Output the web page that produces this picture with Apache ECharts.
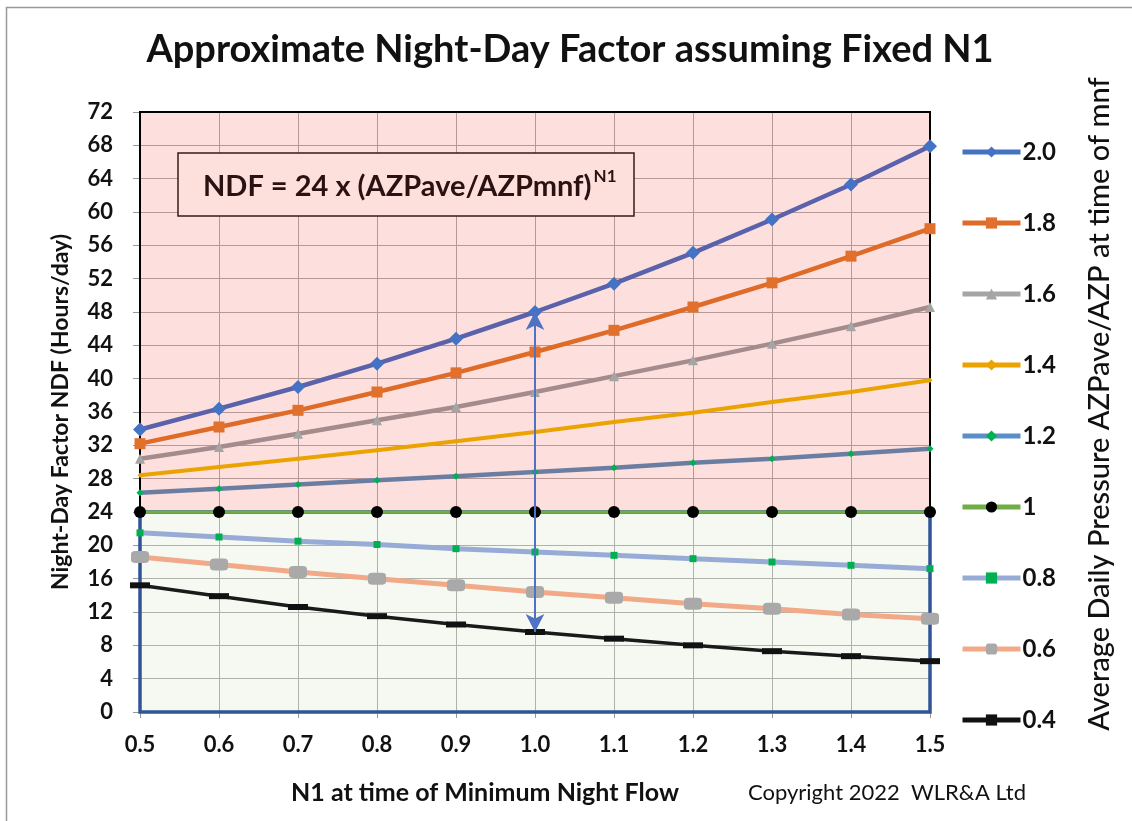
<!DOCTYPE html>
<html>
<head>
<meta charset="utf-8">
<script src="https://cdn.jsdelivr.net/npm/echarts@6/dist/echarts.min.js"></script>
<style>html,body{margin:0;padding:0;background:#fff;}#c{width:1132px;height:821px;}</style>
</head>
<body>
<div id="c"></div>
<script>
// N1 values (x axis categories)
const n1Labels = ['0.5','0.6','0.7','0.8','0.9','1.0','1.1','1.2','1.3','1.4','1.5'];
// Ratio AZPave/AZPmnf (legend names)
const ratioNames = ['2.0','1.8','1.6','1.4','1.2','1','0.8','0.6','0.4'];
// NDF values (hours/day)
const ndf20 = [33.9, 36.4, 39.0, 41.8, 44.8, 48.0, 51.4, 55.1, 59.1, 63.3, 67.9];
const ndf18 = [32.2, 34.2, 36.2, 38.4, 40.7, 43.2, 45.8, 48.6, 51.5, 54.7, 58.0];
const ndf16 = [30.4, 31.8, 33.4, 35.0, 36.6, 38.4, 40.3, 42.2, 44.2, 46.3, 48.6];
const ndf14 = [28.4, 29.4, 30.4, 31.4, 32.5, 33.6, 34.8, 35.9, 37.2, 38.4, 39.8];
const ndf12 = [26.3, 26.8, 27.3, 27.8, 28.3, 28.8, 29.3, 29.9, 30.4, 31.0, 31.6];
const ndf10 = [24, 24, 24, 24, 24, 24, 24, 24, 24, 24, 24];
const ndf08 = [21.5, 21.0, 20.5, 20.1, 19.6, 19.2, 18.8, 18.4, 18.0, 17.6, 17.2];
const ndf06 = [18.6, 17.7, 16.8, 16.0, 15.2, 14.4, 13.7, 13.0, 12.4, 11.7, 11.2];
const ndf04 = [15.2, 13.9, 12.6, 11.5, 10.5, 9.6, 8.8, 8.0, 7.3, 6.7, 6.1];
// y-axis range
const yMin = 0, yMax = 72, yStep = 4;
// threshold between zones and the arrow span
const zoneSplit = 24;
const arrowTop = 48, arrowBottom = 9.6, arrowAt = '1.0';

const FONT = 'Lato';
const seriesData = [ndf20, ndf18, ndf16, ndf14, ndf12, ndf10, ndf08, ndf06, ndf04];
const styles = [
  {line:'#5962aa', item:'#4472c4', legLine:'#4472c4', symbol:'diamond', size:14, w:4.5},
  {line:'#df6b28', item:'#e0702b', legLine:'#df6b28', symbol:'rect', size:11, w:4.5},
  {line:'#a48c8c', item:'#a5a5a5', legLine:'#a5a5a5', symbol:'triangle', size:10, w:4.5},
  {line:'#eaa300', item:'#eaa300', legLine:'#eaa300', symbol:'diamond', size:5, w:4},
  {line:'#6b7ea2', item:'#00b050', legLine:'#5b8fc9', symbol:'diamond', size:7, w:4.5},
  {line:'#70ad47', item:'#000000', legLine:'#70ad47', symbol:'circle', size:12, w:3},
  {line:'#97abd6', item:'#00b050', legLine:'#97abd6', symbol:'rect', size:7, w:5},
  {line:'#f1a987', item:'#a9a9a9', legLine:'#f1a987', symbol:'roundRect', size:[18,12], w:5},
  {line:'#1a1a1a', item:'#111111', legLine:'#111111', symbol:'rect', size:[20,6], w:3.5}
];

const series = [];
// background zones
series.push({
  type:'line', data:[], z:1, silent:true,
  markArea:{silent:true, data:[
    [{coord:[n1Labels[0], zoneSplit], itemStyle:{color:'rgba(248,152,145,0.3)', borderColor:'#000', borderWidth:2}},
     {coord:[n1Labels[n1Labels.length-1], yMax]}],
    [{coord:[n1Labels[0], yMin], itemStyle:{color:'rgba(222,235,212,0.3)', borderColor:'#2f5597', borderWidth:3.5}},
     {coord:[n1Labels[n1Labels.length-1], zoneSplit]}]
  ]}
});
ratioNames.forEach((nm,i)=>{
  const s = styles[i];
  series.push({
    name:nm, type:'line', data:seriesData[i], z:2+ (i===5?1:0),
    symbol:s.symbol, symbolSize:s.size, showSymbol:true,
    lineStyle:{color:s.line, width:s.w}, itemStyle:{color:s.item},
    emphasis:{disabled:true}, animation:false
  });
});
// arrow
series.push({
  type:'line', data:[], z:10, silent:true,
  markLine:{silent:true, symbol:['arrow','arrow'], symbolSize:[14,18], label:{show:false},
    lineStyle:{color:'#4f72c2', width:2, type:'solid'},
    data:[[{coord:[arrowAt, arrowTop]},{coord:[arrowAt, arrowBottom]}]]}
});

const chart = echarts.init(document.getElementById('c'), null, {renderer:'canvas'});

// measure text width for superscript placement
const BOXFS = 29;
const ctx = document.createElement('canvas').getContext('2d');
ctx.font = 'bold ' + BOXFS + 'px ' + FONT;
const mainTxt = 'NDF = 24 x (AZPave/AZPmnf)';
const mainW = ctx.measureText(mainTxt).width;

chart.setOption({
  animation:false,
  backgroundColor:'#ffffff',
  grid:{left:140, right:202, top:112, bottom:109, containLabel:false},
  xAxis:{type:'category', data:n1Labels, boundaryGap:false,
    axisLine:{show:true, lineStyle:{color:'#2f5597', width:1}},
    axisTick:{show:true, alignWithLabel:true, length:6, lineStyle:{color:'#999'}},
    axisLabel:{fontFamily:FONT, fontWeight:'bold', fontSize:22, color:'#111', margin:22},
    splitLine:{show:true, lineStyle:{color:'#9a9a9a', width:1}}
  },
  yAxis:{type:'value', min:yMin, max:yMax, interval:yStep,
    name:'Night-Day Factor NDF (Hours/day)', nameLocation:'middle', nameGap:68,
    nameTextStyle:{fontFamily:FONT, fontWeight:'bold', fontSize:23, color:'#111'},
    axisLine:{show:true, lineStyle:{color:'#888'}},
    axisTick:{show:true, length:7, lineStyle:{color:'#999'}},
    axisLabel:{fontFamily:FONT, fontWeight:'bold', fontSize:22, color:'#111', margin:27},
    splitLine:{show:true, lineStyle:{color:'#9a9a9a', width:1}}
  },
  legend:{orient:'vertical', left:955, top:135, itemWidth:58, itemHeight:14, itemGap:47,
    data: ratioNames.map((nm,i)=>({name:nm, lineStyle:{color:styles[i].legLine, width:5}, itemStyle:{color:styles[i].item}})),
    textStyle:{fontFamily:FONT, fontWeight:'bold', fontSize:24, color:'#111', padding:[0,0,0,-3]},
    selectedMode:false
  },
  graphic:[
    {type:'rect', left:4, top:5, shape:{width:1140, height:830}, style:{fill:'none', stroke:'#999', lineWidth:1.5}, silent:true, z:0},
    {type:'text', x:570, y:50, style:{text:'Approximate Night-Day Factor assuming Fixed N1', fontFamily:FONT, fontWeight:'bold', fontSize:38, fill:'#111', align:'center', verticalAlign:'middle'}},
    {type:'rect', x:178, y:153, shape:{width:456, height:63}, style:{fill:'#fde0dc', stroke:'#3a1a1a', lineWidth:1.5}, z:50},
    {type:'text', x:203, y:187, style:{text:mainTxt, fontFamily:FONT, fontWeight:'bold', fontSize:BOXFS, fill:'#2a1212', align:'left', verticalAlign:'middle'}, z:51},
    {type:'text', x:203+mainW+2, y:177, style:{text:'N1', fontFamily:FONT, fontWeight:'bold', fontSize:17, fill:'#2a1212', align:'left', verticalAlign:'middle'}, z:51},
    {type:'text', x:485, y:793, style:{text:'N1 at time of Minimum Night Flow', fontFamily:FONT, fontWeight:'bold', fontSize:25, fill:'#111', align:'center', verticalAlign:'middle'}},
    {type:'text', x:887, y:793, style:{text:'Copyright 2022  WLR&A Ltd', fontFamily:FONT, fontSize:22, fill:'#111', align:'center', verticalAlign:'middle'}},
    {type:'text', x:1100, y:404, rotation:Math.PI/2, style:{text:'Average Daily Pressure AZPave/AZP at time of mnf', fontFamily:FONT, fontSize:29, fontWeight:500, fill:'#111', align:'center', verticalAlign:'middle'}}
  ],
  series:series
});
</script>
</body>
</html>
